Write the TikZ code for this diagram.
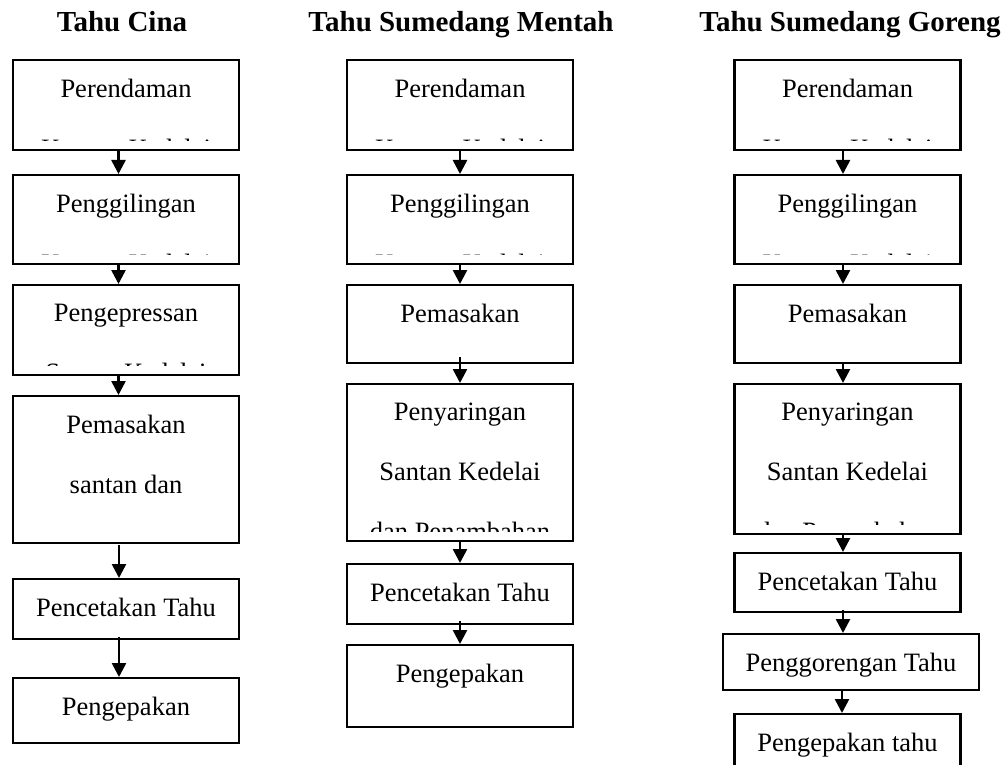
\documentclass[tikz,border=0pt]{standalone}
\usepackage{fontspec}
\setmainfont{Liberation Serif}
\usetikzlibrary{positioning, arrows.meta, calc}

\newcommand{\stepfont}{\fontsize{26.5pt}{60pt}\selectfont}
\newcommand{\headfont}{\fontsize{29pt}{32pt}\selectfont\bfseries}

\begin{document}
\begin{tikzpicture}
    [
        x=1pt, y=-1pt,
        stepbox/.style={draw, rectangle, anchor=north, line width=2.2pt, inner sep=0pt, minimum width=226pt},
        steptext/.style={path picture={
            \begin{scope}
                \clip ([yshift=10pt]path picture bounding box.south west) rectangle (path picture bounding box.north east);
                \node [draw=none, anchor=north, align=center, inner sep=0pt, minimum width=0pt, minimum height=0pt, font=\stepfont]
                    at ([yshift=-18pt]path picture bounding box.north) {#1};
            \end{scope}}},
        head/.style={anchor=base, inner sep=0pt, font=\headfont},
        flow/.style={-{Triangle[width=14pt, length=14pt]}, line width=2.6pt}
    ]
        \useasboundingbox (0,0) rectangle (1005,765);
        % =========================================================================
        % HEADINGS
        % =========================================================================
        \node [head] (head1) at (122,32) {Tahu Cina};
        \node [head] (head2) at (461,32) {Tahu Sumedang Mentah};
        \node [head] (head3) at (850,32) {Tahu Sumedang Goreng};

        % =========================================================================
        % NODES
        % =========================================================================
        % --- Tahu Cina ---
        \node [stepbox, minimum height=90pt, steptext={Perendaman\\Kacang Kedelai}] (c1s1) at (126,59) {};
        \node [stepbox, minimum height=89pt, steptext={Penggilingan\\Kacang Kedelai}] (c1s2) at (126,174) {};
        \node [stepbox, minimum height=90pt, steptext={Pengepressan\\Santan Kedelai}] (c1s3) at (126,284) {};
        \node [stepbox, minimum height=147pt, steptext={Pemasakan\\santan dan}] (c1s4) at (126,395) {};
        \node [stepbox, minimum height=60pt, steptext={Pencetakan Tahu}] (c1s5) at (126,578) {};
        \node [stepbox, minimum height=65pt, steptext={Pengepakan}] (c1s6) at (126,677) {};
        % --- Tahu Sumedang Mentah ---
        \node [stepbox, minimum height=90pt, steptext={Perendaman\\Kacang Kedelai}] (c2s1) at (460,59) {};
        \node [stepbox, minimum height=89pt, steptext={Penggilingan\\Kacang Kedelai}] (c2s2) at (460,174) {};
        \node [stepbox, minimum height=78pt, steptext={Pemasakan}] (c2s3) at (460,284) {};
        \node [stepbox, minimum height=157pt, steptext={Penyaringan\\Santan Kedelai\\dan Penambahan}] (c2s4) at (460,383) {};
        \node [stepbox, minimum height=60pt, steptext={Pencetakan Tahu}] (c2s5) at (460,563) {};
        \node [stepbox, minimum height=82pt, steptext={Pengepakan}] (c2s6) at (460,644) {};
        % --- Tahu Sumedang Goreng ---
        \node [stepbox, minimum height=90pt, steptext={Perendaman\\Kacang Kedelai}] (c3s1) at (847.5,59) {};
        \node [stepbox, minimum height=89pt, steptext={Penggilingan\\Kacang Kedelai}] (c3s2) at (847.5,174) {};
        \node [stepbox, minimum height=78pt, steptext={Pemasakan}] (c3s3) at (847.5,284) {};
        \node [stepbox, minimum height=150pt, steptext={Penyaringan\\Santan Kedelai\\dan Penambahan}] (c3s4) at (847.5,383) {};
        \node [stepbox, minimum height=59pt, steptext={Pencetakan Tahu}] (c3s5) at (847.5,552) {};
        \node [stepbox, minimum width=256pt, minimum height=56pt, steptext={Penggorengan Tahu}] (c3s6) at (851,633) {};
        \node [stepbox, minimum height=70pt, steptext={Pengepakan tahu}] (c3s7) at (847.5,713) {};

        % =========================================================================
        % PATHS
        % =========================================================================
        % --- Tahu Cina ---
        \draw [flow] ([xshift=-7.5pt]c1s1.south) -- ([xshift=-7.5pt]c1s2.north);
        \draw [flow] ([xshift=-7.5pt]c1s2.south) -- ([xshift=-7.5pt]c1s3.north);
        \draw [flow] ([xshift=-7.5pt]c1s3.south) -- ([xshift=-7.5pt]c1s4.north);
        \draw [flow] ([xshift=-7pt, yshift=-1pt]c1s4.south) -- ([xshift=-7pt]c1s5.north);
        \draw [flow] ([xshift=-7pt, yshift=3pt]c1s5.south) -- ([xshift=-7pt]c1s6.north);
        % --- Tahu Sumedang Mentah ---
        \draw [flow] (c2s1.south) -- (c2s2.north);
        \draw [flow] (c2s2.south) -- (c2s3.north);
        \draw [flow] ([yshift=7pt]c2s3.south) -- (c2s4.north);
        \draw [flow] (c2s4.south) -- (c2s5.north);
        \draw [flow] ([yshift=4pt]c2s5.south) -- (c2s6.north);
        % --- Tahu Sumedang Goreng ---
        \draw [flow] ([xshift=-4.5pt]c3s1.south) -- ([xshift=-4.5pt]c3s2.north);
        \draw [flow] ([xshift=-4.5pt]c3s2.south) -- ([xshift=-4.5pt]c3s3.north);
        \draw [flow] ([xshift=-4.5pt]c3s3.south) -- ([xshift=-4.5pt]c3s4.north);
        \draw [flow] ([xshift=-4.5pt]c3s4.south) -- ([xshift=-4.5pt]c3s5.north);
        \draw [flow] ([xshift=-4.5pt, yshift=3pt]c3s5.south) -- ([xshift=-4.5pt]c3s5.south |- c3s6.north);
        \draw [flow] ([xshift=-5.5pt]c3s7.north |- c3s6.south) -- ([xshift=-5.5pt]c3s7.north);

    \end{tikzpicture}
\end{document}
